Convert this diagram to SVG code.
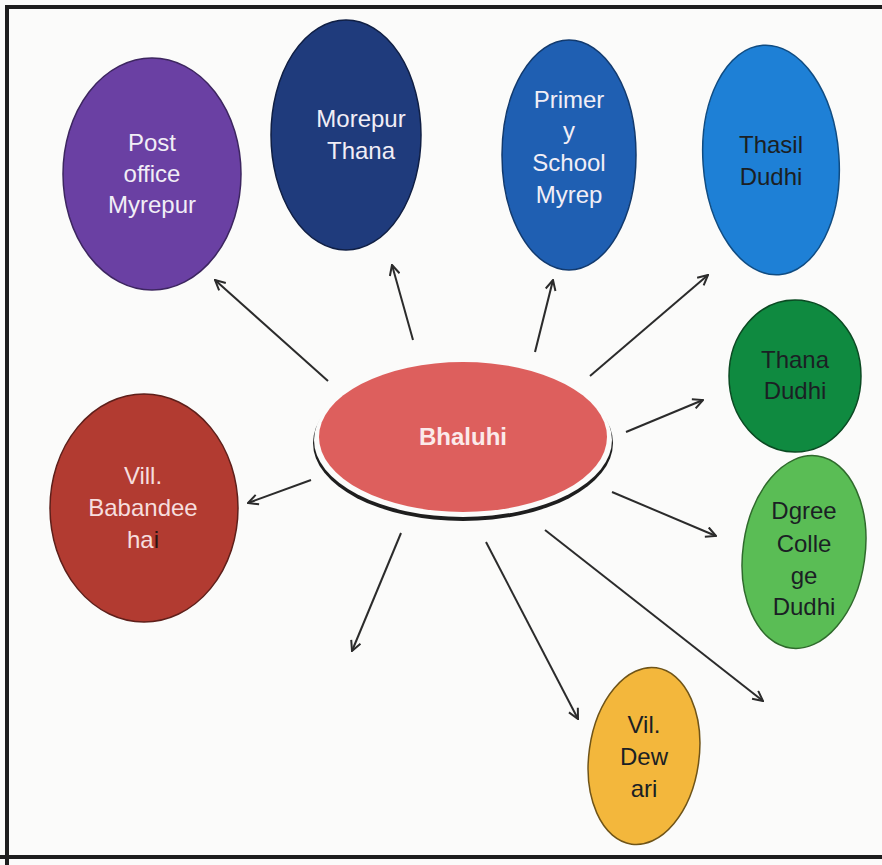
<svg xmlns="http://www.w3.org/2000/svg" width="882" height="865" viewBox="0 0 882 865">
<defs>
<marker id="arr" viewBox="0 0 12 12" refX="11" refY="6" markerWidth="12" markerHeight="12" markerUnits="userSpaceOnUse" orient="auto">
<path d="M1,1 L11,6 L1,11" fill="none" stroke="#2b2b2b" stroke-width="2"/>
</marker>
<style>
.n{stroke-width:1.5}
.t{font-family:"Liberation Sans",Arial,sans-serif;font-size:24px;text-anchor:middle}
.lt{fill:#f1eef6}
.dk{fill:#1b1f24}
.c{fill:none;stroke:#2b2b2b;stroke-width:2;marker-end:url(#arr)}
</style>
</defs>
<rect width="882" height="865" fill="#fbfbfa"/>
<g id="frame" stroke="#1e1e1e" stroke-width="4" fill="none">
<path d="M7,866 V7 H882"/>
<path d="M0,857 H882"/>
</g>
<g id="connectors">
<line class="c" x1="328" y1="381" x2="215" y2="280"/>
<line class="c" x1="413" y1="340" x2="392" y2="265"/>
<line class="c" x1="535" y1="352" x2="553" y2="280"/>
<line class="c" x1="590" y1="376" x2="708" y2="275"/>
<line class="c" x1="626" y1="432" x2="703" y2="400"/>
<line class="c" x1="612" y1="492" x2="716" y2="536"/>
<line class="c" x1="486" y1="542" x2="578" y2="719"/>
<line class="c" x1="545" y1="530" x2="763" y2="701"/>
<line class="c" x1="401" y1="533" x2="352" y2="651"/>
<line class="c" x1="311" y1="480" x2="248" y2="503"/>
</g>
<g id="post-office">
<ellipse class="n" cx="152" cy="174" rx="89" ry="116" fill="#6a40a3" stroke="#3d2660"/>
<text class="t lt" x="152" y="151">Post</text>
<text class="t lt" x="152" y="182">office</text>
<text class="t lt" x="152" y="213">Myrepur</text>
</g>
<g id="morepur-thana">
<ellipse class="n" cx="346" cy="135" rx="75" ry="115" fill="#1f3b7c" stroke="#101f44"/>
<text class="t lt" x="361" y="127">Morepur</text>
<text class="t lt" x="361" y="159">Thana</text>
</g>
<g id="primery-school">
<ellipse class="n" cx="569" cy="155" rx="67" ry="115" fill="#1f5fb2" stroke="#123a6e"/>
<text class="t lt" x="569" y="108">Primer</text>
<text class="t lt" x="569" y="139">y</text>
<text class="t lt" x="569" y="171">School</text>
<text class="t lt" x="569" y="203">Myrep</text>
</g>
<g id="thasil-dudhi">
<ellipse class="n" cx="771" cy="160" rx="68" ry="115" transform="rotate(-4 771 160)" fill="#1e80d6" stroke="#104c82"/>
<text class="t dk" x="771" y="153">Thasil</text>
<text class="t dk" x="771" y="185">Dudhi</text>
</g>
<g id="thana-dudhi">
<ellipse class="n" cx="795" cy="376" rx="66" ry="76" fill="#0f8a40" stroke="#0a4a22"/>
<text class="t dk" x="795" y="368">Thana</text>
<text class="t dk" x="795" y="399">Dudhi</text>
</g>
<g id="dgree-college">
<ellipse class="n" cx="804" cy="552" rx="61" ry="97" transform="rotate(8 804 552)" fill="#5abd55" stroke="#2f6a2c"/>
<text class="t dk" x="804" y="519">Dgree</text>
<text class="t dk" x="804" y="552">Colle</text>
<text class="t dk" x="804" y="584">ge</text>
<text class="t dk" x="804" y="615">Dudhi</text>
</g>
<g id="vil-dewari">
<ellipse class="n" cx="644" cy="756" rx="55" ry="89" transform="rotate(8 644 756)" fill="#f3b73c" stroke="#6f5418"/>
<text class="t dk" x="644" y="733">Vil.</text>
<text class="t dk" x="644" y="765">Dew</text>
<text class="t dk" x="644" y="797">ari</text>
</g>
<g id="vill-babandee">
<ellipse class="n" cx="144" cy="508" rx="94" ry="114" fill="#b23b31" stroke="#5e1f1a"/>
<text class="t" fill="#f6dede" x="143" y="484">Vill.</text>
<text class="t" fill="#f6dede" x="143" y="516">Babandee</text>
<text class="t" fill="#f6dede" x="143" y="548">ha<tspan fill="#2a1414">i</tspan></text>
</g>
<g id="bhaluhi">
<ellipse cx="463" cy="443" rx="150" ry="78" fill="#1e1e1e"/>
<ellipse cx="463" cy="440" rx="149" ry="77" fill="#fbfbfa"/>
<ellipse cx="463" cy="437" rx="144" ry="75" fill="#dd5f5d"/>
<text x="463" y="445" font-family="Liberation Sans, Arial, sans-serif" font-size="24" font-weight="bold" fill="#fbeaea" text-anchor="middle">Bhaluhi</text>
</g>
</svg>
